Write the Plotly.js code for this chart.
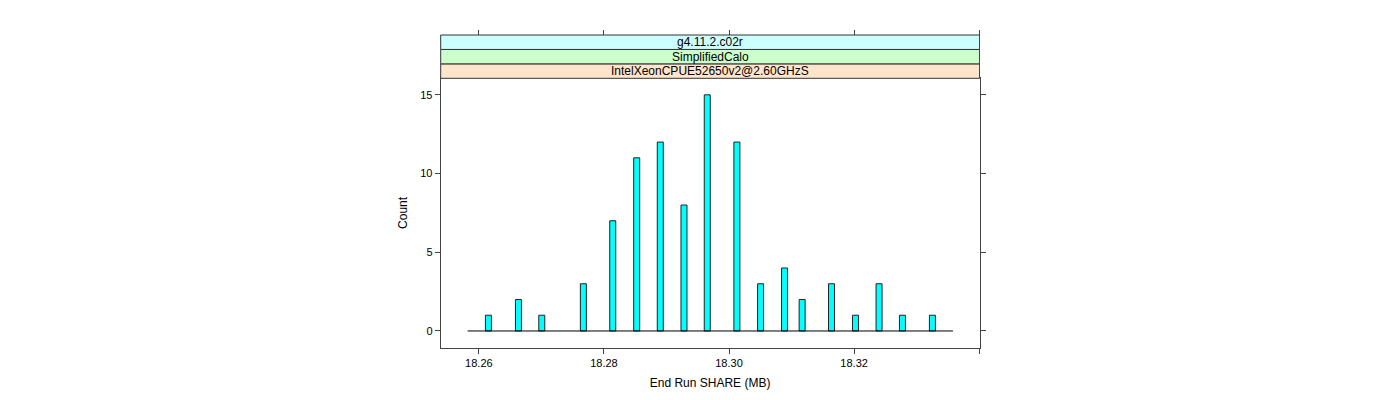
<!DOCTYPE html>
<html>
<head>
<meta charset="utf-8">
<script src="https://cdn.plot.ly/plotly-3.0.1.min.js"></script>
<style>html,body{margin:0;padding:0;background:#fff;}#chart{width:1400px;height:400px;}</style>
</head>
<body>
<div id="chart"></div>
<script>
// Bin centres (MB) and counts
const binCenters = [18.26153, 18.26633, 18.27006, 18.27671, 18.28141, 18.28524, 18.28901, 18.29280, 18.29652,
                    18.30126, 18.30505, 18.30888, 18.31169, 18.31639, 18.32022, 18.32399, 18.32773, 18.33252];
const counts = [1, 2, 1, 3, 7, 11, 12, 8, 15, 12, 3, 4, 2, 3, 1, 3, 1, 1];
const binWidth = 0.00096;
const histRange = [18.2582, 18.3358];
const xTickVals = [18.26, 18.28, 18.30, 18.32, 18.34];
const xTickText = ['18.26', '18.28', '18.30', '18.32', ''];
const yTickVals = [0, 5, 10, 15];
const stripLabels = ['IntelXeonCPUE52650v2@2.60GHzS', 'SimplifiedCalo', 'g4.11.2.c02r'];
const stripColors = ['#ffe5cc', '#ccffcc', '#ccffff'];

const W = 1400, H = 400;
const px = v => v / W;
const py = v => (H - v) / H;

const xRange = [18.2539, 18.34005];
const yRange = [-1.05, 16.05];
const panel = {l: 440.7, r: 979.5, t: 78.3, b: 347.5};
const stripH = 14.43;

const traces = [
  {
    type: 'bar', x: binCenters, y: counts, width: binWidth,
    marker: {color: '#00ffff', line: {color: '#222', width: 1}},
    hoverinfo: 'x+y', xaxis: 'x', yaxis: 'y'
  },
  {
    type: 'scatter', mode: 'lines', x: histRange, y: [0, 0],
    line: {color: '#000', width: 1}, hoverinfo: 'skip', xaxis: 'x', yaxis: 'y'
  },
  {
    type: 'scatter', mode: 'markers', x: [xRange[0]], y: [0], marker: {opacity: 0},
    hoverinfo: 'skip', xaxis: 'x2', yaxis: 'y'
  }
];

const shapes = [];
const annotations = [];
for (let i = 0; i < stripLabels.length; i++) {
  const y0 = panel.t - i * stripH;
  const y1 = y0 - stripH;
  shapes.push({
    type: 'rect', xref: 'paper', yref: 'paper',
    x0: px(panel.l), x1: px(panel.r), y0: py(y0), y1: py(y1),
    fillcolor: stripColors[i], line: {color: '#333', width: 1}, layer: 'above'
  });
  annotations.push({
    xref: 'paper', yref: 'paper', x: (px(panel.l) + px(panel.r)) / 2, y: py((y0 + y1) / 2),
    text: stripLabels[i], showarrow: false, xanchor: 'center', yanchor: 'middle',
    font: {family: 'Liberation Sans, Arial, sans-serif', size: 12, color: '#000'}
  });
}
// right border continuing above panel up to strips' top
shapes.push({type: 'line', xref: 'paper', yref: 'paper', x0: px(panel.r), x1: px(panel.r),
  y0: py(panel.t), y1: py(panel.t - 3 * stripH), line: {color: '#444', width: 1}});

const tickFont = {family: 'Liberation Sans, Arial, sans-serif', size: 11, color: '#000'};

const layout = {
  width: W, height: H,
  margin: {l: 0, r: 0, t: 0, b: 0},
  paper_bgcolor: '#fff', plot_bgcolor: '#fff',
  showlegend: false,
  bargap: 0,
  xaxis: {
    domain: [px(panel.l), px(panel.r)], range: xRange,
    tickvals: xTickVals, ticktext: xTickText,
    ticks: 'outside', ticklen: 5, tickcolor: '#444', tickwidth: 1,
    showline: true, linecolor: '#444', linewidth: 1, mirror: true,
    showgrid: false, zeroline: false,
    tickfont: tickFont,
    title: {text: 'End Run SHARE (MB)', font: {family: 'Liberation Sans, Arial, sans-serif', size: 12, color: '#000'}, standoff: 10}
  },
  xaxis2: {
    overlaying: 'x', side: 'top', anchor: 'free', position: py(panel.t - 3 * stripH),
    range: xRange, tickvals: xTickVals, showticklabels: false,
    ticks: 'outside', ticklen: 5, tickcolor: '#444', tickwidth: 1,
    showline: false, showgrid: false, zeroline: false
  },
  yaxis: {
    domain: [py(panel.b), py(panel.t)], range: yRange,
    tickvals: yTickVals,
    ticks: 'outside', ticklen: 5, tickcolor: '#444', tickwidth: 1,
    showline: true, linecolor: '#444', linewidth: 1, mirror: 'ticks',
    showgrid: false, zeroline: false,
    tickfont: tickFont,
    title: {text: 'Count', font: {family: 'Liberation Sans, Arial, sans-serif', size: 12, color: '#000'}, standoff: 10}
  },
  shapes: shapes,
  annotations: annotations
};

Plotly.newPlot('chart', traces, layout, {displayModeBar: false, staticPlot: true});
</script>
</body>
</html>
